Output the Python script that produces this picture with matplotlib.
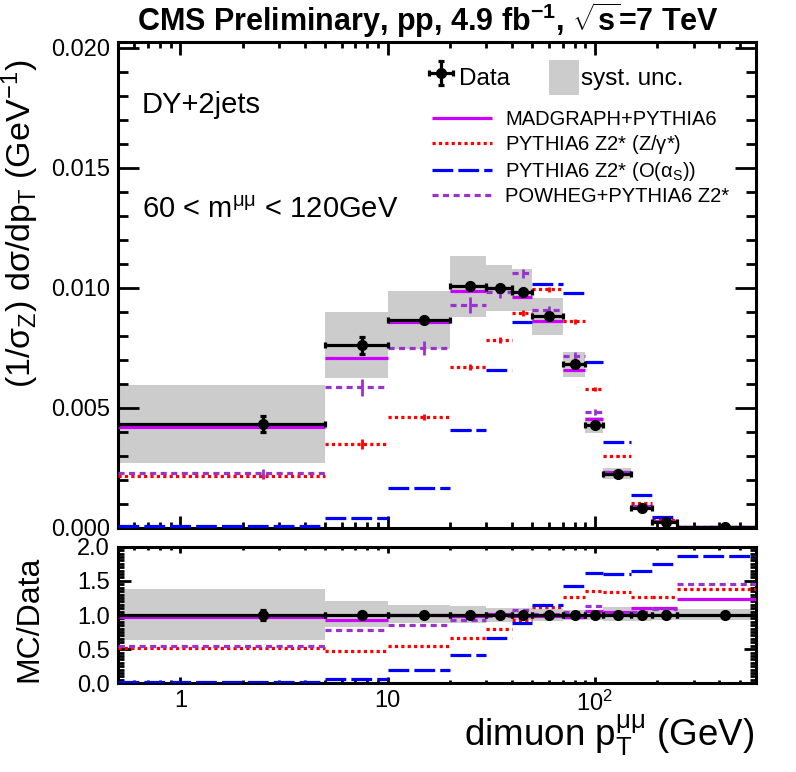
import numpy as np
import matplotlib
matplotlib.use("Agg")
import matplotlib.pyplot as plt
from matplotlib.ticker import MultipleLocator, LogLocator, NullFormatter

plt.rcParams['font.family'] = ['Liberation Sans', 'DejaVu Sans']
plt.rcParams['mathtext.fontset'] = 'custom'
plt.rcParams['mathtext.rm'] = 'Liberation Sans'
plt.rcParams['mathtext.it'] = 'Liberation Sans'
plt.rcParams['mathtext.bf'] = 'Liberation Sans:bold'

# pT bins (GeV); first bin is 0-5 but the axis starts at 0.5
bin_edges = [0.5, 5, 10, 20, 30, 40, 50, 70, 90, 110, 150, 190, 250, 600]
bin_centers = [2.5, 7.5, 15, 25, 35, 45, 60, 80, 100, 130, 170, 220, 425]

# normalised cross section
data = [0.00433, 0.00761, 0.00865, 0.01007, 0.00999, 0.00982, 0.00882,
        0.00682, 0.00429, 0.00225, 0.00083, 0.00026, 0.00002]
data_err = [0.00035, 0.00036, 0.00010, 0.00010, 0.00010, 0.00010, 0.00010,
            0.00010, 0.00008, 0.00005, 0.00004, 0.00002, 0.00001]
syst_lo = [0.00272, 0.00626, 0.00747, 0.00880, 0.00905, 0.00905, 0.00805,
           0.00630, 0.00397, 0.00205, 0.00075, 0.00024, 0.00001]
syst_hi = [0.00596, 0.00900, 0.00988, 0.01133, 0.01095, 0.01079, 0.00958,
           0.00733, 0.00463, 0.00250, 0.00093, 0.00028, 0.00003]

madgraph = [0.00420, 0.00707, 0.00860, 0.00988, 0.01002, 0.00961, 0.00861,
            0.00658, 0.00454, 0.00234, 0.00091, 0.00029, 0.000025]
pythia_zg = [0.00215, 0.00349, 0.00461, 0.00670, 0.00783, 0.00895, 0.00995,
             0.00861, 0.00579, 0.00299, 0.00103, 0.00033, 0.000028]
pythia_as = [0.00008, 0.00040, 0.00165, 0.00407, 0.00657, 0.00857, 0.01015,
             0.00978, 0.00690, 0.00357, 0.00136, 0.00046, 0.000037]
powheg = [0.00228, 0.00586, 0.00749, 0.00928, 0.00985, 0.01061, 0.00907,
          0.00717, 0.00482, 0.00232, 0.00090, 0.00028, 0.000029]

madgraph_err = [0.00004] * 13
pythia_zg_err = [0.00010, 0.00020, 0.00012, 0.00012, 0.00012, 0.00012, 0.00010,
                 0.00010, 0.00008, 0.00005, 0.00003, 0.00001, 0.000005]
pythia_as_err = [0.00002, 0.00003, 0.00003, 0.00004, 0.00004, 0.00004, 0.00004,
                 0.00004, 0.00003, 0.00002, 0.00002, 0.00001, 0.000005]
powheg_err = [0.00018, 0.00035, 0.00030, 0.00033, 0.00025, 0.00020, 0.00018,
              0.00015, 0.00012, 0.00008, 0.00005, 0.00002, 0.000005]

# MC / Data ratio panel
ratio_err = [0.08, 0.05, 0.02, 0.02, 0.02, 0.02, 0.02, 0.02, 0.02, 0.02, 0.03, 0.04, 0.05]
ratio_syst_lo = [0.64, 0.83, 0.88, 0.88, 0.90, 0.92, 0.91, 0.92, 0.92, 0.91, 0.91, 0.92, 0.92]
ratio_syst_hi = [1.38, 1.20, 1.14, 1.13, 1.10, 1.10, 1.09, 1.08, 1.08, 1.12, 1.12, 1.09, 1.09]
ratio_madgraph = [0.97, 0.93, 1.00, 0.99, 1.01, 0.985, 0.985, 0.97, 1.06, 1.04, 1.10, 1.10, 1.24]
ratio_pythia_zg = [0.51, 0.47, 0.55, 0.67, 0.79, 0.92, 1.12, 1.26, 1.35, 1.33, 1.26, 1.27, 1.38]
ratio_pythia_as = [0.02, 0.07, 0.19, 0.41, 0.66, 0.88, 1.14, 1.43, 1.61, 1.60, 1.64, 1.74, 1.86]
ratio_powheg = [0.55, 0.78, 0.86, 0.92, 0.99, 1.07, 1.02, 1.05, 1.13, 1.03, 1.05, 1.09, 1.45]

labels = ["MADGRAPH+PYTHIA6", r"PYTHIA6 Z2* (Z/$\mathregular{\gamma}$*)",
          r"PYTHIA6 Z2* (O($\mathregular{\alpha_{S}}$))", "POWHEG+PYTHIA6 Z2*"]
colors = ["#cc00ff", "#ff0000", "#0000ff", "#9933cc"]
styles = ["solid", (0, (1, 1)), (0, (6.5, 1.6)), (0, (1.9, 1.4))]

lo = np.array(bin_edges[:-1])
hi = np.array(bin_edges[1:])
cen = np.array(bin_centers)
xerr = [cen - lo, hi - cen]

fig = plt.figure(figsize=(7.96, 7.72), dpi=100)
ax = fig.add_axes([0.1482, 0.3161, 0.8015, 0.6295])
rax = fig.add_axes([0.1482, 0.1149, 0.8015, 0.1769])


def draw_panel(a, vals, models, model_errs, band_lo, band_hi, errs):
    band = a.bar(lo, np.array(band_hi) - np.array(band_lo), width=hi - lo,
                 bottom=band_lo, align="edge", color="#cccccc", lw=0, zorder=1)
    handles = []
    for m, me, c, ls in zip(models, model_errs, colors, styles):
        h = a.hlines(m, lo, hi, colors=c, linestyles=ls, lw=2.3, zorder=3)
        if me is not None:
            a.errorbar(cen, m, yerr=me, fmt="none", ecolor=c, elinewidth=2, zorder=3)
        handles.append(h)
    d = a.errorbar(cen, vals, xerr=xerr, yerr=errs, fmt="o", color="k", ms=7,
                   elinewidth=2.3, capsize=2, capthick=2.3, zorder=5)
    return d, band, handles


d, band, handles = draw_panel(ax, data, [madgraph, pythia_zg, pythia_as, powheg],
                              [madgraph_err, pythia_zg_err, pythia_as_err, powheg_err],
                              syst_lo, syst_hi, data_err)
draw_panel(rax, [1.0] * 13,
           [ratio_madgraph, ratio_pythia_zg, ratio_pythia_as, ratio_powheg],
           [None] * 4, ratio_syst_lo, ratio_syst_hi, ratio_err)

for a in (ax, rax):
    a.set_xscale("log")
    a.set_xlim(0.5, 600)
    a.xaxis.set_major_locator(LogLocator(base=10, numticks=10))
    a.xaxis.set_minor_locator(LogLocator(base=10, subs=np.arange(2, 10), numticks=20))
    a.xaxis.set_minor_formatter(NullFormatter())
    for s in a.spines.values():
        s.set_linewidth(2.2)

ax.set_ylim(0, 0.02025)
ax.yaxis.set_major_locator(MultipleLocator(0.005))
ax.yaxis.set_minor_locator(MultipleLocator(0.001))
ax.yaxis.set_major_formatter(plt.FuncFormatter(lambda v, p: f"{v:.3f}"))
ax.tick_params(axis="x", which="both", labelbottom=False)
ax.tick_params(which="both", direction="in", top=True, right=True, width=2, labelsize=17)
ax.tick_params(axis="y", which="major", length=15, pad=6)
ax.tick_params(axis="y", which="minor", length=7.5)
ax.tick_params(axis="x", which="major", length=9)
ax.tick_params(axis="x", which="minor", length=4)

rax.set_ylim(0, 2.0)
rax.yaxis.set_major_locator(MultipleLocator(0.5))
rax.yaxis.set_minor_locator(MultipleLocator(0.05))
rax.yaxis.set_major_formatter(plt.FuncFormatter(lambda v, p: f"{v:.1f}"))
rax.set_xticks([1, 10, 100])
rax.set_xticklabels(["1", "10", r"$\mathregular{10^{2}}$"])
rax.tick_params(which="both", direction="in", top=True, right=True, width=2, labelsize=17)
rax.tick_params(axis="y", which="major", length=9, pad=6)
rax.tick_params(axis="y", which="minor", length=4.5)
rax.tick_params(axis="x", which="major", length=4, pad=5)
rax.tick_params(axis="x", which="minor", length=2)

fig.text(428 / 796, 1 - 20 / 772, r"CMS Preliminary, pp, 4.9 fb$^{\mathbf{-1}}$, $\sqrt{\mathbf{s}}$=7 TeV",
         ha="center", va="center", fontsize=22, fontweight="bold")
fig.text(0.025, 1 - 60 / 772, r"(1/$\mathregular{\sigma_{Z}}$) d$\mathregular{\sigma}$/d$\mathregular{p_{T}}$ (GeV$\mathregular{^{-1}}$)",
         rotation=90, ha="center", va="top", fontsize=24.5)
fig.text(0.037, 1 - 619 / 772, "MC/Data", rotation=90, ha="center", va="center", fontsize=23)
fig.text(754 / 796, 1 - 735 / 772, r"dimuon $\mathregular{p_{T}^{\mu\mu}}$ (GeV)", ha="right",
         va="center", fontsize=26.5)

ax.text(0.0376, 0.870, "DY+2jets", transform=ax.transAxes, fontsize=21, va="center")
ax.text(0.0376, 0.655, r"60 < $\mathregular{m^{\mu\mu}}$ < 120GeV", transform=ax.transAxes,
        fontsize=21, va="center")

leg1 = ax.legend([d, band], ["Data", "syst. unc."], ncol=2, loc="upper left",
                 bbox_to_anchor=((426 - 118) / 638, (528 - 60) / 486), frameon=False,
                 fontsize=17.5, handlelength=1.25, handleheight=1.85, handletextpad=0.1,
                 columnspacing=1.6, borderpad=0, borderaxespad=0)
ax.add_artist(leg1)
ax.legend(handles, labels, loc="upper left",
          bbox_to_anchor=((432 - 118) / 638, (528 - 110) / 486), frameon=False,
          fontsize=14.5, handlelength=3.0, handletextpad=0.65, labelspacing=0.2,
          borderpad=0, borderaxespad=0)

fig.savefig("out.png", dpi=100)
